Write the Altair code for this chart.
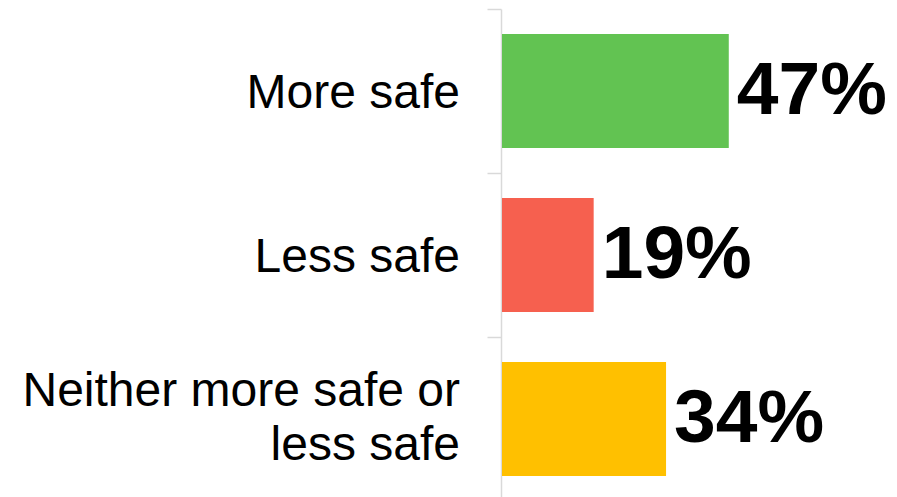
import altair as alt
import pandas as pd

categories = ["More safe", "Less safe", "Neither more safe or|less safe"]
values = [47, 19, 34]
colors = ["#62C352", "#F6604F", "#FFC000"]

df = pd.DataFrame({"category": categories, "value": values, "color": colors})

y_enc = alt.Y(
    "category:N",
    sort=categories,
    scale=alt.Scale(paddingInner=0, paddingOuter=0),
    axis=alt.Axis(
        title=None,
        labels=False,
        tickBand="extent",
        tickSize=14,
        tickColor="#D9D9D9",
        tickWidth=1.5,
        domainColor="#D9D9D9",
        domainWidth=1.5,
        grid=False,
    ),
)
x_enc = alt.X("value:Q", scale=alt.Scale(domain=[0, 80]), axis=None)

base = alt.Chart(df)

bars = base.mark_bar(height=alt.RelativeBandSize(0.695), xOffset=1).encode(
    x=x_enc,
    y=y_enc,
    color=alt.Color("color:N", scale=None),
)

values_text = base.transform_calculate(
    txt="datum.value + '%'"
).mark_text(
    align="left", baseline="middle", dx=9, font="Liberation Sans",
    fontSize=75, fontWeight="bold", color="#000000"
).encode(
    x=x_enc,
    y=y_enc,
    text="txt:N",
)

label_style = dict(align="right", baseline="middle", font="Liberation Sans",
                   fontSize=48, lineHeight=54, color="#000000", lineBreak="|")

single_labels = base.transform_filter(
    "indexof(datum.category, '|') < 0"
).mark_text(dy=3, **label_style).encode(
    x=alt.value(-41),
    y=y_enc,
    text="category:N",
)

multi_labels = base.transform_filter(
    "indexof(datum.category, '|') >= 0"
).mark_text(dy=-27, **label_style).encode(
    x=alt.value(-41),
    y=y_enc,
    text="category:N",
)

chart = (bars + values_text + single_labels + multi_labels).properties(
    width=386, height=492,
    padding={"left": 14, "top": 0, "right": 0, "bottom": 0},
).configure_view(stroke=None)

chart.save("out.html", embed_options={"renderer": "svg", "actions": False})
